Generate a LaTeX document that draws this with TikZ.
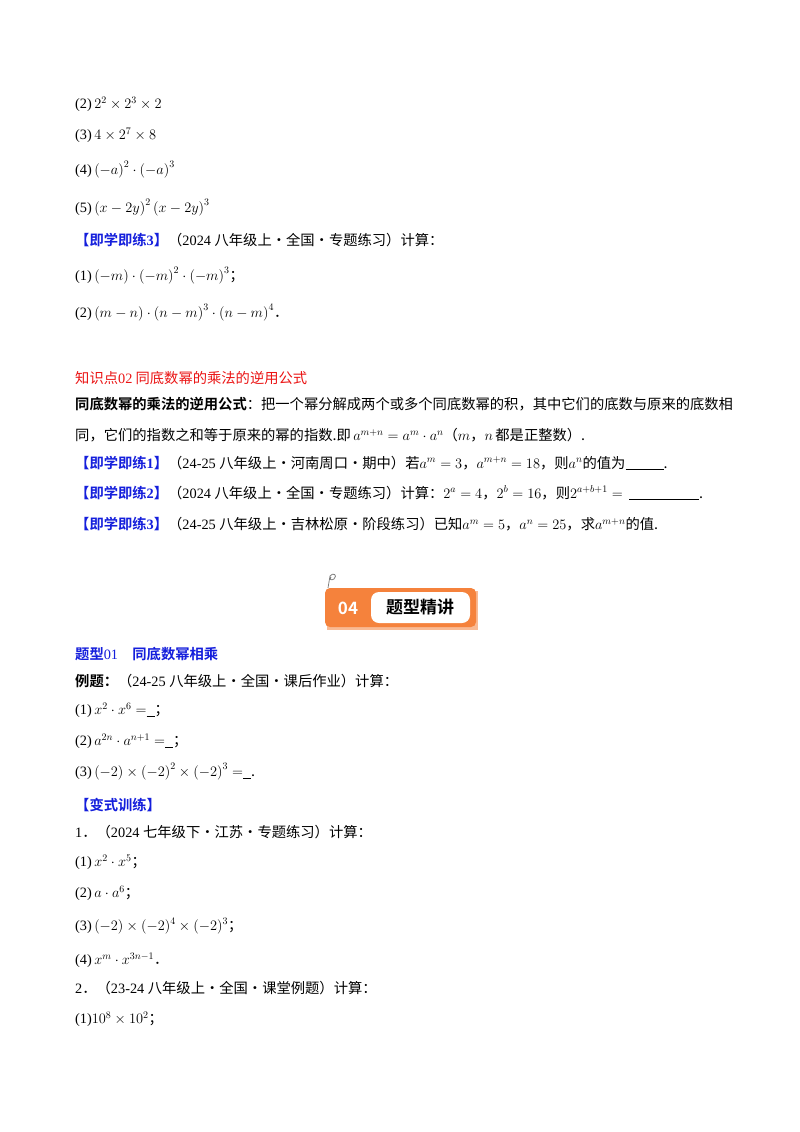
\documentclass[tikz,border=0pt]{standalone}
\usepackage{fontspec}
\setmainfont{Noto Sans CJK SC}[BoldFont={Noto Sans CJK SC Bold}]
\newfontfamily\lat{Liberation Serif}
\definecolor{kblue}{RGB}{20,30,220}
\definecolor{kred}{RGB}{235,20,20}
\definecolor{korange}{RGB}{245,130,60}
\newcommand{\jx}[1]{\textcolor{kblue}{\bfseries 【即学即练{\lat #1}】}}
\newcommand{\blank}[1]{\underline{\hspace{#1}}}
\begin{document}
\begin{tikzpicture}[x=1pt,y=-1pt,
  ln/.style={anchor=west,inner sep=0pt,font=\fontsize{14.3}{16}\selectfont}]
\useasboundingbox[fill=white] (0,0) rectangle (800,1132);
\node[ln] (a2) at (75,104) {{\lat(2)}\,$2^2\times2^3\times2$};
\node[ln] (a3) at (75,135) {{\lat(3)}\,$4\times2^7\times8$};
\node[ln] (a4) at (75,170) {{\lat(4)}\,$\left(-a\right)^2\cdot\left(-a\right)^3$};
\node[ln] (a5) at (75,208) {{\lat(5)}\,$\left(x-2y\right)^2\left(x-2y\right)^3$};
\node[ln] (b0) at (75,240) {\jx{3}（{\lat 2024 }八年级上·全国·专题练习）计算：};
\node[ln] (b1) at (75,276) {{\lat(1)}\,$\left(-m\right)\cdot\left(-m\right)^2\cdot\left(-m\right)^3$；};
\node[ln] (b2) at (75,313) {{\lat(2)}\,$\left(m-n\right)\cdot\left(n-m\right)^3\cdot\left(n-m\right)^4$．};
\node[ln,text=kred] (k0) at (75,378) {知识点{\lat 02} 同底数幂的乘法的逆用公式};
\node[ln] (k1) at (75,404) {\textbf{同底数幂的乘法的逆用公式}：把一个幂分解成两个或多个同底数幂的积，其中它们的底数与原来的底数相};
\node[ln] (k2) at (75,435) {同，它们的指数之和等于原来的幂的指数.即\,$a^{m+n}=a^m\cdot a^n$（$m$，$n$\,都是正整数）.};
\node[ln] (k3) at (75,463) {\jx{1}（{\lat 24-25 }八年级上·河南周口·期中）若$a^m=3$，$a^{m+n}=18$，则$a^n$的值为\blank{38pt}.};
\node[ln] (k4) at (75,493) {\jx{2}（{\lat 2024 }八年级上·全国·专题练习）计算：$2^a=4$，$2^b=16$，则$2^{a+b+1}=$\ \ \blank{70pt}.};
\node[ln] (k5) at (75,524) {\jx{3}（{\lat 24-25 }八年级上·吉林松原·阶段练习）已知$a^m=5$，$a^n=25$，求$a^{m+n}$的值.};
% banner
\fill[korange!55] (327,591) rectangle (478,630);
\fill[korange, rounded corners=5pt] (325,588) rectangle (476,627);
\fill[white, rounded corners=8pt] (371,592) rectangle (470,623);
\node[font=\fontsize{17}{17}\selectfont\bfseries, text=white] (n04) at (348,608) {04};
\node[font=\fontsize{17}{17}\selectfont\bfseries] (ttl) at (420,607) {题型精讲};
\draw[gray, thick] (328,588) -- (330,576) .. controls (333,572) and (338,575) .. (334,579) .. controls (331,581) and (329,579) .. (331,577);
\node[ln,text=kblue,font=\fontsize{14.3}{16}\selectfont\bfseries] (t0) at (75,654) {题型{\lat\mdseries 01}\quad 同底数幂相乘};
\node[ln] (t1) at (75,681) {\textbf{例题：}（{\lat 24-25 }八年级上·全国·课后作业）计算：};
\node[ln] (t2) at (75,710) {{\lat(1)}\,$x^2\cdot x^6=$\blank{8pt}；};
\node[ln] (t3) at (75,741) {{\lat(2)}\,$a^{2n}\cdot a^{n+1}=$\blank{8pt}；};
\node[ln] (t4) at (75,772) {{\lat(3)}\,$\left(-2\right)\times\left(-2\right)^2\times\left(-2\right)^3=$\blank{8pt}.};
\node[ln,text=kblue,font=\fontsize{14.3}{16}\selectfont\bfseries] (v0) at (75,805) {【变式训练】};
\node[ln] (v1) at (75,832) {{\lat 1}．（{\lat 2024 }七年级下·江苏·专题练习）计算：};
\node[ln] (v2) at (75,862) {{\lat(1)}\,$x^2\cdot x^5$；};
\node[ln] (v3) at (75,893) {{\lat(2)}\,$a\cdot a^6$；};
\node[ln] (v4) at (75,926) {{\lat(3)}\,$(-2)\times(-2)^4\times(-2)^3$；};
\node[ln] (v5) at (75,960) {{\lat(4)}\,$x^m\cdot x^{3n-1}$．};
\node[ln] (v6) at (75,988) {{\lat 2}．（{\lat 23-24 }八年级上·全国·课堂例题）计算：};
\node[ln] (v7) at (75,1019) {{\lat(1)}$10^8\times10^2$；};
\end{tikzpicture}
\end{document}
